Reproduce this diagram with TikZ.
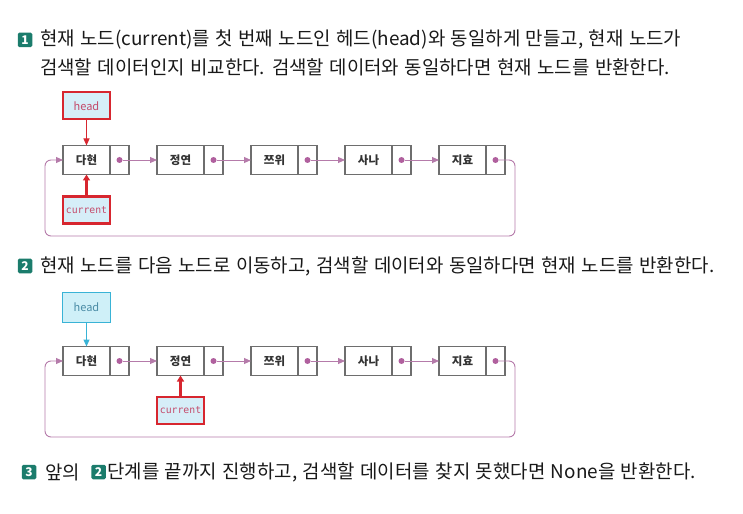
\documentclass[tikz,border=0pt]{standalone}
\usepackage{fontspec}
\setmainfont{Noto Sans CJK KR}[WordSpace=1.3]
\newfontfamily\labelfont{Noto Sans CJK KR}
\newfontfamily\codefont{DejaVu Sans Mono}
\usepackage{xcolor}
\usetikzlibrary{arrows.meta, positioning}

\definecolor{badgegreen}{HTML}{1B7C6C}
\definecolor{boxgray}{HTML}{6E6E6E}
\definecolor{linkpurple}{HTML}{B57BAA}
\definecolor{dotpurple}{HTML}{B0609E}
\definecolor{markred}{HTML}{D7262F}
\definecolor{markfill}{HTML}{D6EEF8}
\definecolor{marktext}{HTML}{C44A6A}
\definecolor{headcyan}{HTML}{39B3D6}
\definecolor{headfill}{HTML}{CFF0F8}
\definecolor{headtext}{HTML}{4A8CA6}

\begin{document}
\begin{tikzpicture}[
    x=1bp, y=-1bp,
    badge/.style={rectangle, fill=badgegreen, rounded corners=1.5bp, minimum size=14.5bp, inner sep=0pt, text=white, font=\labelfont\fontsize{12bp}{12bp}\selectfont\bfseries},
    steptext/.style={anchor=west, inner sep=0pt, text=black!90, font=\fontsize{18.9bp}{22bp}\selectfont},
    databox/.style={rectangle, draw=boxgray, line width=1.6bp, fill=white, minimum width=47bp, minimum height=29bp, inner sep=0pt, outer sep=0pt, text=black!80, font=\labelfont\fontsize{11.5bp}{12bp}\selectfont\bfseries},
    ptrbox/.style={databox, minimum width=19bp},
    ptrdot/.style={circle, fill=dotpurple, minimum size=6bp, inner sep=0pt},
    link/.style={-{Triangle[length=7bp, width=6bp]}, draw=linkpurple, line width=0.9bp},
    markbox/.style={rectangle, draw=markred, line width=2.4bp, fill=markfill, minimum width=47bp, minimum height=27bp, inner sep=0pt, text=marktext, font=\labelfont\fontsize{11bp}{11bp}\selectfont},
    headbox/.style={markbox, draw=headcyan, line width=1bp, fill=headfill, minimum width=48bp, minimum height=29bp, text=headtext},
    codetext/.style={font=\codefont\fontsize{9.8bp}{10bp}\selectfont},
    markarrow/.style={-{Triangle[length=7bp, width=6bp]}, draw=markred, line width=1bp},
    curarrow/.style={-{Triangle[length=6bp, width=7bp]}, draw=markred, line width=2.2bp},
    headarrow/.style={-{Triangle[length=7bp, width=6bp]}, draw=headcyan, line width=1bp}
]
\useasboundingbox (0,0) rectangle (743,514);

% Step texts
\node[badge] (n1) at (25,40) {1};
\node[steptext] (s1a) at (40,40) {현재 노드(current)를 첫 번째 노드인 헤드(head)와 동일하게 만들고, 현재 노드가};
\node[steptext] (s1b) at (40,67) {검색할 데이터인지 비교한다. 검색할 데이터와 동일하다면 현재 노드를 반환한다.};
\node[badge] (n2) at (25,266) {2};
\node[steptext] (s2) at (40,266) {현재 노드를 다음 노드로 이동하고, 검색할 데이터와 동일하다면 현재 노드를 반환한다.};
\node[badge] (n3) at (29,472) {3};
\node[steptext] (s3a) at (45,472) {앞의};
\node[badge, right=11bp of s3a] (n3b) {2};
\node[steptext, right=1bp of n3b] (s3b) {단계를 끝까지 진행하고, 검색할 데이터를 찾지 못했다면 None을 반환한다.};

% Nodes, first list
\node[databox] (a1) at (86.5,160) {다현};
\node[ptrbox, right=0pt of a1] (a1p) {};
\node[databox, right=28bp of a1p] (a2) {정연};
\node[ptrbox, right=0pt of a2] (a2p) {};
\node[databox, right=28bp of a2p] (a3) {쯔위};
\node[ptrbox, right=0pt of a3] (a3p) {};
\node[databox, right=28bp of a3p] (a4) {사나};
\node[ptrbox, right=0pt of a4] (a4p) {};
\node[databox, right=28bp of a4p] (a5) {지효};
\node[ptrbox, right=0pt of a5] (a5p) {};
\foreach \i in {1,...,5}
    \node[ptrdot] (a\i d) at (a\i p.center) {};

\node[markbox, above=25bp of a1] (head1) {head};
\node[markbox, codetext, below=21bp of a1] (cur1) {current};

% Nodes, second list
\node[databox] (b1) at (86.5,361) {다현};
\node[ptrbox, right=0pt of b1] (b1p) {};
\node[databox, right=28bp of b1p] (b2) {정연};
\node[ptrbox, right=0pt of b2] (b2p) {};
\node[databox, right=28bp of b2p] (b3) {쯔위};
\node[ptrbox, right=0pt of b3] (b3p) {};
\node[databox, right=28bp of b3p] (b4) {사나};
\node[ptrbox, right=0pt of b4] (b4p) {};
\node[databox, right=28bp of b4p] (b5) {지효};
\node[ptrbox, right=0pt of b5] (b5p) {};
\foreach \i in {1,...,5}
    \node[ptrdot] (b\i d) at (b\i p.center) {};

\node[headbox, above=24bp of b1] (head2) {head};
\node[markbox, codetext, below=20bp of b2] (cur2) {current};

% Arrows
\draw[link] (a1d) -- (a2);
\draw[link] (a2d) -- (a3);
\draw[link] (a3d) -- (a4);
\draw[link] (a4d) -- (a5);
\draw[link, rounded corners=6bp] (a5d) -| (515,236) -| (45,160) -- (a1);
\draw[markarrow] (head1) -- (a1);
\draw[curarrow] (cur1) -- (a1);

\draw[link] (b1d) -- (b2);
\draw[link] (b2d) -- (b3);
\draw[link] (b3d) -- (b4);
\draw[link] (b4d) -- (b5);
\draw[link, rounded corners=6bp] (b5d) -| (515,437) -| (45,361) -- (b1);
\draw[headarrow] (head2) -- (b1);
\draw[curarrow] (cur2) -- (b2);

\end{tikzpicture}
\end{document}
